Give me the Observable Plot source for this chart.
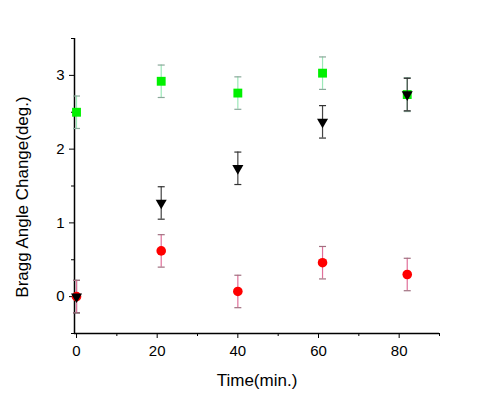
<!DOCTYPE html>
<html>
<head>
<meta charset="utf-8">
<script src="https://cdn.jsdelivr.net/npm/d3@7"></script>
<script src="https://cdn.jsdelivr.net/npm/@observablehq/plot@0.6"></script>
<style>
  html, body { margin: 0; padding: 0; background: #fff; }
  #chart svg { display: block; }
</style>
</head>
<body>
<div id="chart"></div>
<script>
// Data
const times = [0, 21, 40, 61, 82];
const greenValues = [2.50, 2.92, 2.76, 3.03, 2.74];
const greenErrors = [0.22, 0.22, 0.22, 0.22, 0.23];
const blackValues = [0.00, 1.27, 1.74, 2.37, 2.74];
const blackErrors = [0.22, 0.22, 0.22, 0.22, 0.22];
const redValues = [0.00, 0.62, 0.07, 0.46, 0.30];
const redErrors = [0.22, 0.22, 0.22, 0.22, 0.22];
const xMajorTicks = [0, 20, 40, 60, 80];
const xMinorTicks = [10, 30, 50, 70, 90];
const yMajorTicks = [0, 1, 2, 3];
const yMinorTicks = [-0.5, 0.5, 1.5, 2.5, 3.5];
const xLabel = "Time(min.)";
const yLabel = "Bragg Angle Change(deg.)";

const toRows = (vals, errs) => times.map((t, i) => ({t, v: vals[i], e: errs[i]}));
const green = toRows(greenValues, greenErrors);
const black = toRows(blackValues, blackErrors);
const red = toRows(redValues, redErrors);

const cap = {draw(ctx) { ctx.moveTo(-3.5, 0); ctx.lineTo(3.5, 0); }};

function errorMarks(rows, lineColor, capColor) {
  return [
    Plot.ruleX(rows, {x: "t", y1: d => d.v - d.e, y2: d => d.v + d.e, stroke: lineColor, strokeWidth: 1.2}),
    Plot.dot(rows, {x: "t", y: d => d.v + d.e, symbol: cap, stroke: capColor, strokeWidth: 1.2, r: 3}),
    Plot.dot(rows, {x: "t", y: d => d.v - d.e, symbol: cap, stroke: capColor, strokeWidth: 1.2, r: 3})
  ];
}

const chart = Plot.plot({
  width: 491,
  height: 396,
  marginLeft: 74,
  marginRight: 52,
  marginTop: 38,
  marginBottom: 63,
  style: {fontFamily: "'Liberation Sans', Arial, sans-serif", fontSize: "15px", color: "#000", background: "#fff"},
  x: {domain: [-0.5, 90]},
  y: {domain: [-0.5, 3.5]},
  marks: [
    // axes
    Plot.axisX({ticks: xMajorTicks, tickSize: 5, tickPadding: 7, label: null, fontSize: 15, tickFormat: d3.format("d")}),
    Plot.axisX({ticks: xMinorTicks, tickSize: 3, tickFormat: null, label: null, text: null}),
    Plot.axisY({ticks: yMajorTicks, tickSize: 5, tickPadding: 5, label: null, fontSize: 15, tickFormat: d3.format("d")}),
    Plot.axisY({ticks: yMinorTicks, tickSize: 3, label: null, text: null}),
    Plot.ruleX([-0.5], {stroke: "#000", strokeWidth: 1.5}),
    Plot.ruleY([-0.5], {stroke: "#000", strokeWidth: 1.5}),
    // green squares
    ...errorMarks(green, "#9be8b8", "#8aa89a"),
    Plot.dot(green, {x: "t", y: "v", symbol: "square", r: 5, fill: "#00f000", stroke: "none"}),
    // error bars of black and red series
    ...errorMarks(black, "#444", "#333"),
    ...errorMarks(red, "#e0709a", "#a07080"),
    // red circles
    Plot.dot(red, {x: "t", y: "v", symbol: "circle", r: 4.8, fill: "#ff0000", stroke: "none"}),
    // black down triangles
    Plot.dot(black, {x: "t", y: "v", symbol: "triangle", rotate: 180, r: 4.1, fill: "#000", stroke: "none"}),
    // axis titles
    Plot.text([xLabel], {frameAnchor: "bottom", dy: 47, textAnchor: "middle", lineAnchor: "middle", fontSize: 17, fill: "#000"}),
    Plot.text([yLabel], {frameAnchor: "left", dx: -52, dy: 11, rotate: -90, textAnchor: "middle", lineAnchor: "middle", fontSize: 17, fill: "#000"})
  ]
});

document.getElementById("chart").appendChild(chart);
</script>
</body>
</html>
